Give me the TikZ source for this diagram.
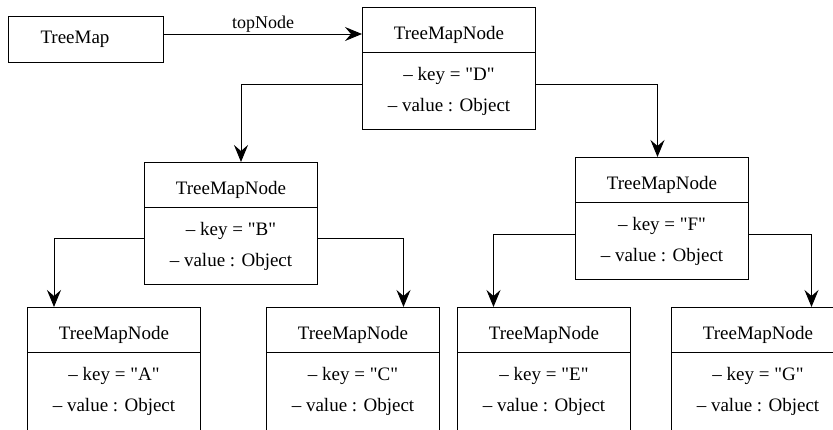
\documentclass[tikz,border=0pt]{standalone}
\usepackage{fontspec}
\setmainfont{Liberation Serif}
\usetikzlibrary{arrows.meta,calc}
\begin{document}
\begin{tikzpicture}[x=1pt,y=-1pt,
  box/.style={draw=black,line width=1pt,minimum width=173pt,minimum height=122pt,inner sep=0pt,anchor=north west},
  lbl/.style={inner sep=0pt,anchor=base,font=\fontsize{19}{22}\selectfont},
  arr/.style={draw=black,line width=1pt,-{Stealth[length=17pt,width=14pt,inset=6pt]}}]
\useasboundingbox (0,0) rectangle (833,429);
\clip (0,0) rectangle (833,429);

% one class box: name, top-left corner, height, key letter
\newcommand{\classbox}[5]{%
  \node[box,minimum height=#4pt] (#1) at (#2,#3) {};
  \draw[line width=1pt] ($(#1.north west)+(0,45)$) -- ($(#1.north east)+(0,45)$);
  \node[lbl] (#1h) at ($(#1.north)+(0,32)$) {TreeMapNode};
  \node[lbl] (#1k) at ($(#1.north)+(0,73)$) {– key = \textquotedbl #5\textquotedbl};
  \node[lbl] (#1v) at ($(#1.north)+(0,104)$) {– value : Object};
}

% root reference
\node[draw=black,line width=1pt,minimum width=155pt,minimum height=46pt,inner sep=0pt,anchor=north west] (tm) at (8,16) {};
\node[lbl] (tmt) at (75,43) {TreeMap};

\classbox{D}{362}{7}{122}{D}
\classbox{B}{144}{162}{122}{B}
\classbox{F}{575}{157}{122}{F}
\classbox{A}{27}{307}{140}{A}
\classbox{C}{266}{307}{140}{C}
\classbox{E}{457}{307}{140}{E}
\classbox{G}{671}{307}{140}{G}

% links
\draw[arr] ($(tm.north east)+(0,18)$) -- node[lbl,above=6pt,anchor=base,font=\fontsize{18}{21}\selectfont] {topNode} ($(D.north west)+(0,27)$);
\draw[arr] ($(D.north west)+(0,77)$) -| ([xshift=10pt]B.north);
\draw[arr] ($(D.north east)+(0,77)$) -| ([xshift=-4.5pt]F.north);
\draw[arr] ($(B.north west)+(0,76)$) -| ([xshift=-60pt]A.north);
\draw[arr] ($(B.north east)+(0,76)$) -| ([xshift=50.5pt]C.north);
\draw[arr] ($(F.north west)+(0,77)$) -| ([xshift=-50.5pt]E.north);
\draw[arr] ($(F.north east)+(0,77)$) -| ([xshift=53.5pt]G.north);
\end{tikzpicture}
\end{document}
